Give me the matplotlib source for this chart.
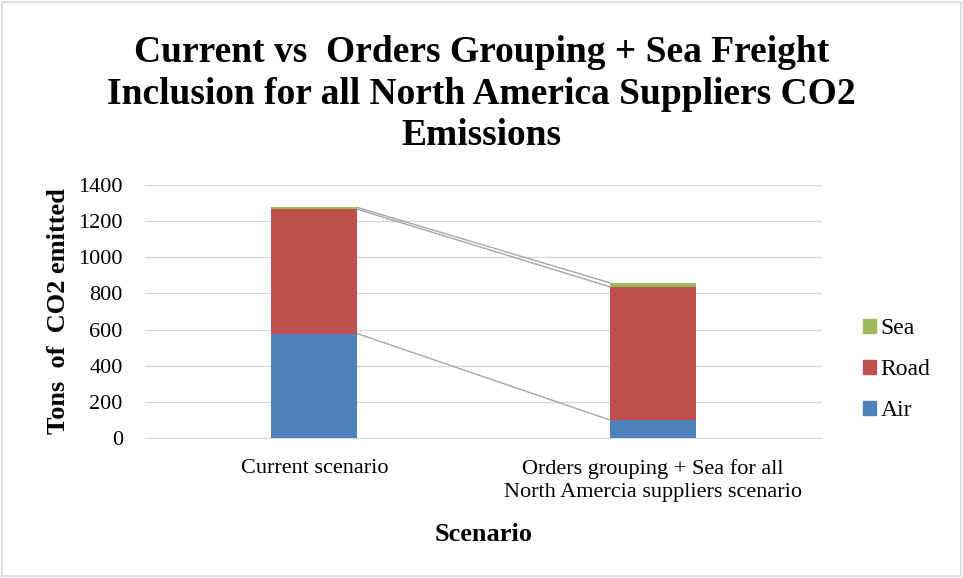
import matplotlib
matplotlib.use("Agg")
import matplotlib.pyplot as plt
from matplotlib.patches import Rectangle, Patch
import numpy as np

categories = ["Current scenario", "Orders grouping + Sea for all\nNorth Amercia suppliers scenario"]
air = [578, 100]
road = [688, 737]
sea = [10, 22]
series_names = ["Air", "Road", "Sea"]
colors = ["#4F81BD", "#C0504D", "#9BBB59"]
yticks = [0, 200, 400, 600, 800, 1000, 1200, 1400]

plt.rcParams['font.family'] = ['Liberation Serif', 'DejaVu Serif']

fig = plt.figure(figsize=(9.63, 5.78), dpi=100)
fig.patches.append(Rectangle((0.002, 0.003), 0.996, 0.994, transform=fig.transFigure,
                             fill=False, edgecolor="#d9d9d9", linewidth=1.2))
ax = fig.add_axes([0.1506, 0.2422, 0.7030, 0.4377])

x = np.arange(len(categories))
w = 0.254
bottoms = np.zeros(len(categories))
for vals, name, c in zip([air, road, sea], series_names, colors):
    ax.bar(x, vals, w, bottom=bottoms, color=c, label=name, zorder=3)
    bottoms = bottoms + np.array(vals)
    # series lines
    ax.plot([x[0] + w / 2, x[1] - w / 2], [bottoms[0], bottoms[1]], color="#a6a6a6",
            linewidth=1.0, zorder=2)

ax.set_xlim(-0.5, 1.5)
ax.set_ylim(0, 1400)
ax.set_yticks(yticks)
ax.set_yticklabels([str(t) for t in yticks], fontsize=16)
ax.set_xticks(x)
ax.set_xticklabels(categories, fontsize=16, linespacing=1.3)
ax.tick_params(axis='both', length=0)
ax.tick_params(axis='y', pad=16)
ax.tick_params(axis='x', pad=15)
ax.yaxis.grid(True, color="#d9d9d9", linewidth=1.0, zorder=0)
for s in ["top", "right", "left"]:
    ax.spines[s].set_visible(False)
ax.spines["bottom"].set_color("#d9d9d9")

ax.set_ylabel("Tons  of  CO2 emitted", fontsize=19, fontweight="bold", labelpad=6)
ax.set_xlabel("Scenario", fontsize=19, fontweight="bold", labelpad=15)

fig.text(0.5, 1 - 94 / 578, "Current vs  Orders Grouping + Sea Freight\nInclusion for all North America Suppliers CO2\nEmissions",
         ha="center", va="center", fontsize=27, fontweight="bold", linespacing=1.25)

leg_handles = [Patch(color=colors[i], label=series_names[i]) for i in [2, 1, 0]]
fig.legend(handles=leg_handles, loc="center left", bbox_to_anchor=(0.874, 0.360),
           frameon=False, fontsize=17, handlelength=0.55, handleheight=0.55,
           handletextpad=0.2, labelspacing=0.85)

fig.savefig("out.png", dpi=100)
